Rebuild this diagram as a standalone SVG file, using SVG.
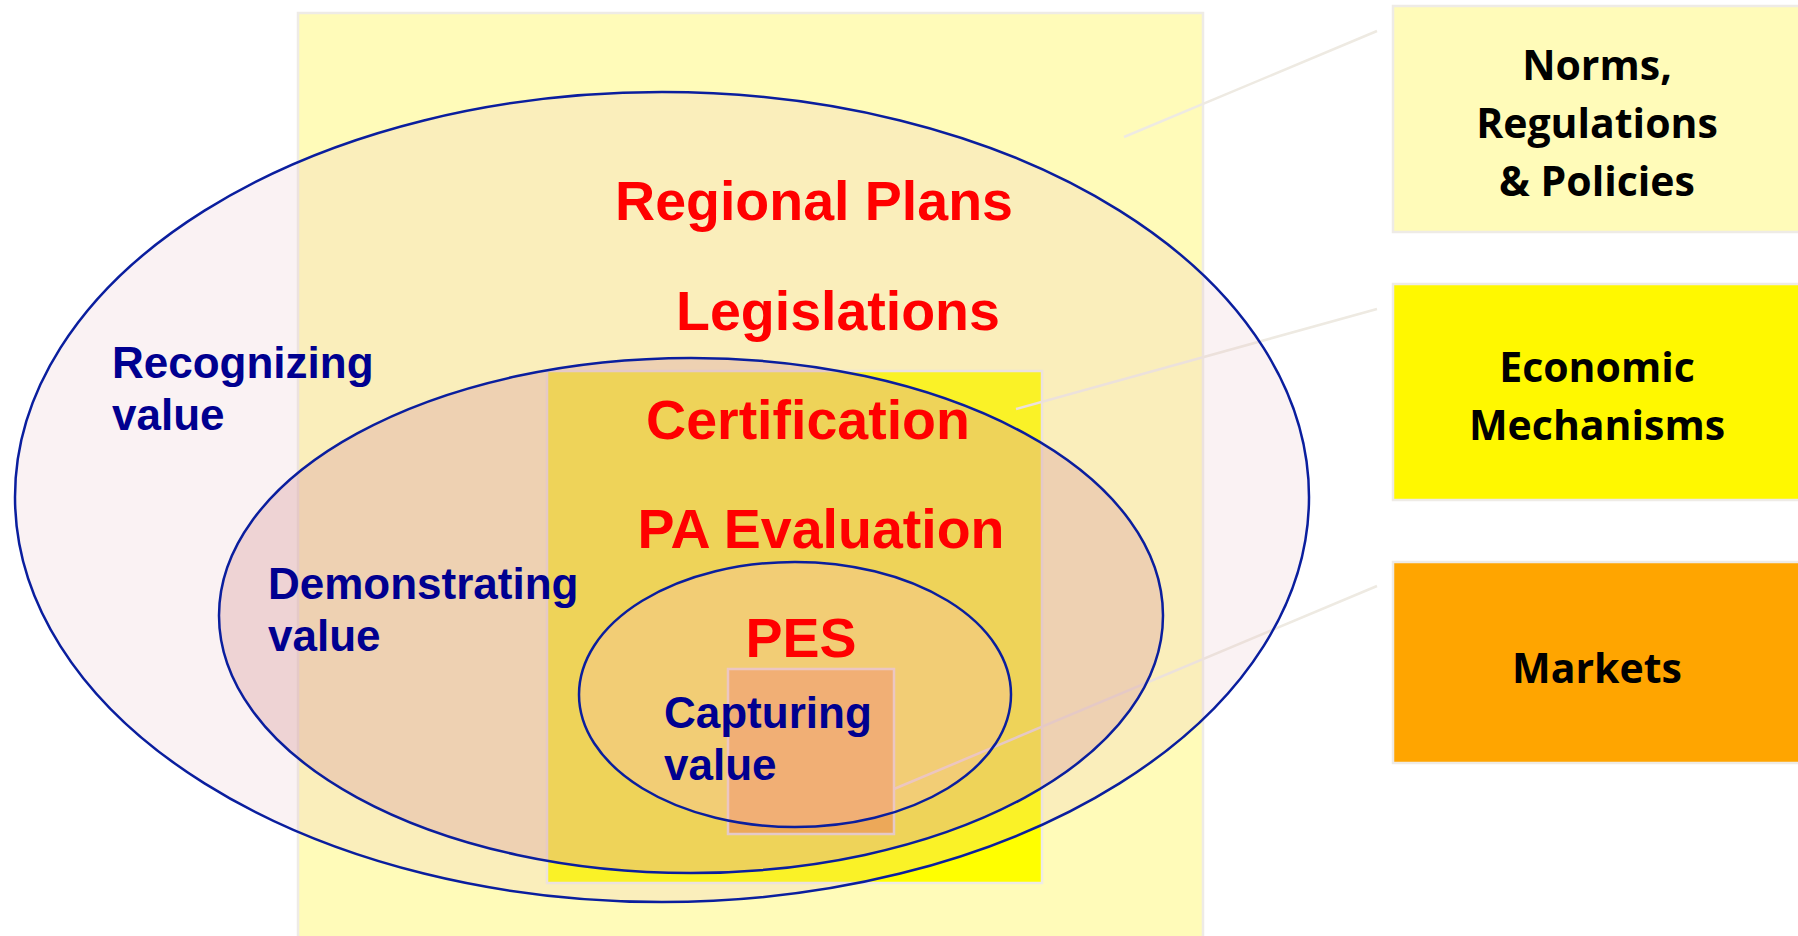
<svg xmlns="http://www.w3.org/2000/svg" width="1798" height="936" viewBox="0 0 1798 936">
  <style>
    .box { stroke: #EEEBE6; stroke-width: 2.5; }
    .lead { stroke: #EEEAE2; stroke-width: 2.5; fill: none; }
    .ell { stroke: #0A1E9E; stroke-width: 2.5; }
    .red { font-family: "Liberation Sans", Arial, sans-serif; font-weight: bold; font-size: 55.5px; fill: #FF0000; text-anchor: middle; }
    .blue { font-family: "Liberation Sans", Arial, sans-serif; font-weight: bold; font-size: 44px; fill: #000090; }
    .lbl { font-family: "Open Sans", "Noto Sans", sans-serif; font-weight: bold; font-size: 41px; fill: #000000; text-anchor: middle; }
  </style>
  <rect width="1798" height="936" fill="#FFFFFF"/>

  <!-- background layers (rects) -->
  <g id="norms-area">
    <rect class="box" x="298" y="13" width="905" height="940" fill="#FFFBB9"/>
  </g>
  <g id="economic-area">
    <rect class="box" x="547" y="371" width="495" height="512" fill="#FFFF00"/>
  </g>
  <g id="markets-area">
    <rect class="box" x="728" y="669" width="166" height="165" fill="#FCA700"/>
  </g>

  <!-- connectors -->
  <g id="connectors">
    <line class="lead" x1="1377" y1="31" x2="1124" y2="137"/>
    <line class="lead" x1="1377" y1="309" x2="1016" y2="409"/>
    <line class="lead" x1="1377" y1="586" x2="894" y2="789"/>
  </g>

  <!-- ellipses -->
  <g id="recognizing">
    <ellipse class="ell" cx="662" cy="497" rx="647" ry="405" fill="rgb(230,190,195)" fill-opacity="0.2"/>
  </g>
  <g id="demonstrating">
    <ellipse class="ell" cx="691" cy="615.5" rx="472" ry="257.5" fill="rgb(220,165,166)" fill-opacity="0.4"/>
  </g>
  <g id="capturing">
    <ellipse class="ell" cx="795" cy="694.5" rx="216" ry="132.5" fill="rgb(253,193,183)" fill-opacity="0.3"/>
  </g>

  <!-- red labels -->
  <g id="labels-red">
    <text class="red" x="814" y="220">Regional Plans</text>
    <text class="red" x="838" y="330">Legislations</text>
    <text class="red" x="808" y="439">Certification</text>
    <text class="red" x="821" y="548">PA Evaluation</text>
    <text class="red" x="801" y="657">PES</text>
  </g>

  <!-- blue labels -->
  <g id="labels-blue">
    <text class="blue" x="112" y="378">Recognizing</text>
    <text class="blue" x="112" y="430">value</text>
    <text class="blue" x="268" y="599">Demonstrating</text>
    <text class="blue" x="268" y="651">value</text>
    <text class="blue" x="664" y="728">Capturing</text>
    <text class="blue" x="664" y="780">value</text>
  </g>

  <!-- right legend boxes -->
  <g id="node-norms">
    <rect class="box" x="1393" y="6" width="420" height="226" fill="#FFFBB9"/>
    <text class="lbl" x="1597" y="80">Norms,</text>
    <text class="lbl" x="1597" y="138">Regulations</text>
    <text class="lbl" x="1597" y="196">&amp; Policies</text>
  </g>
  <g id="node-economic">
    <rect class="box" x="1393" y="284" width="420" height="216" fill="#FFF800"/>
    <text class="lbl" x="1597" y="382">Economic</text>
    <text class="lbl" x="1597" y="440">Mechanisms</text>
  </g>
  <g id="node-markets">
    <rect class="box" x="1393" y="562" width="420" height="201" fill="#FFA500"/>
    <text class="lbl" x="1597" y="683">Markets</text>
  </g>
</svg>
